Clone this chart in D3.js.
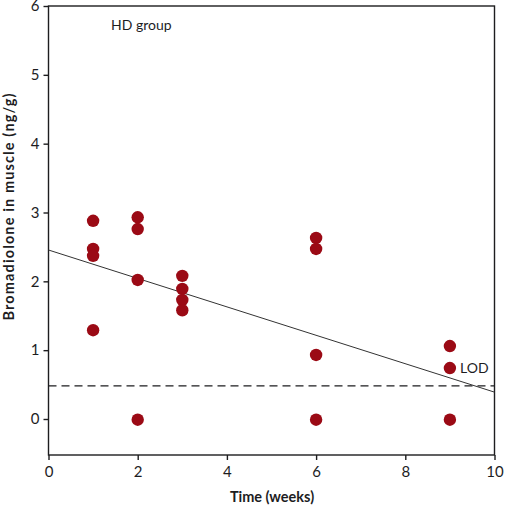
<!DOCTYPE html>
<html><head><meta charset="utf-8">
<script src="https://cdn.jsdelivr.net/npm/d3@7"></script>
<style>body{margin:0;background:#fff}svg{display:block}</style>
</head><body>
<svg id="c" width="506" height="509"></svg>
<script>
// Data
const weeks = [1,1,1,1, 2,2,2,2, 3,3,3,3, 6,6,6,6, 9,9,9];
const conc  = [2.88,2.47,2.37,1.29, 2.93,2.76,2.02,-0.01, 2.08,1.89,1.73,1.58, 2.63,2.47,0.93,-0.01, 1.06,0.74,-0.01];
const fitLine = [[0,2.455],[10,0.39]];
const lod = 0.48;
const xTicks = [0,2,4,6,8,10];
const yTicks = [0,1,2,3,4,5,6];

const svg = d3.select('#c');
const L=48.5, R=494.5, T=6, B=455;
const x = d3.scaleLinear().domain([0,10]).range([L,R]);
const y = d3.scaleLinear().domain([0,6]).range([419,T]);
const font = "'Lato','Open Sans',sans-serif";
const ink = '#1d1d1f';

// frame
svg.append('rect').attr('x',L).attr('y',T).attr('width',R-L).attr('height',B-T)
  .attr('fill','none').attr('stroke',ink).attr('stroke-width',1.4);

const xa = svg.append('g').attr('transform',`translate(0,${B})`)
  .call(d3.axisBottom(x).tickValues(xTicks).tickSize(5).tickPadding(6).tickFormat(d3.format('d')));
const ya = svg.append('g').attr('transform',`translate(${L},0)`)
  .call(d3.axisLeft(y).tickValues(yTicks).tickSize(5).tickPadding(4).tickFormat(d3.format('d')));
[xa,ya].forEach(a=>{
  a.select('.domain').remove();
  a.selectAll('line').attr('stroke',ink).attr('stroke-width',1.4);
  a.selectAll('text').attr('font-family',font).attr('font-size',15).attr('fill',ink);
});

// LOD dashed
svg.append('line').attr('x1',L).attr('x2',R).attr('y1',y(lod)).attr('y2',y(lod))
  .attr('stroke',ink).attr('stroke-width',1.2).attr('stroke-dasharray','8,5');

// fit line
svg.append('line').attr('x1',x(fitLine[0][0])).attr('y1',y(fitLine[0][1]))
  .attr('x2',x(fitLine[1][0])).attr('y2',y(fitLine[1][1]))
  .attr('stroke','#333').attr('stroke-width',1);

// points
svg.append('g').selectAll('circle').data(weeks.map((w,i)=>[w,conc[i]])).join('circle')
  .attr('cx',d=>x(d[0])).attr('cy',d=>y(d[1])).attr('r',6.2).attr('fill','#9b0a15');

svg.append('text').attr('x',111).attr('y',30).text('HD group')
  .attr('font-family',font).attr('font-size',14).attr('fill',ink);
svg.append('text').attr('x',460).attr('y',373).text('LOD')
  .attr('font-family',font).attr('font-size',14).attr('fill',ink);

svg.append('text').attr('x',272).attr('y',502).attr('text-anchor','middle').text('Time (weeks)')
  .attr('font-family',font).attr('font-size',14.5).attr('font-weight','bold').attr('fill',ink);
svg.append('text').attr('transform',`translate(14,207) rotate(-90)`).attr('text-anchor','middle')
  .attr('textLength',227).attr('lengthAdjust','spacing')
  .text('Bromadiolone in muscle (ng/g)')
  .attr('font-family',font).attr('font-size',14.5).attr('font-weight','bold').attr('fill',ink);
</script>
</body></html>
